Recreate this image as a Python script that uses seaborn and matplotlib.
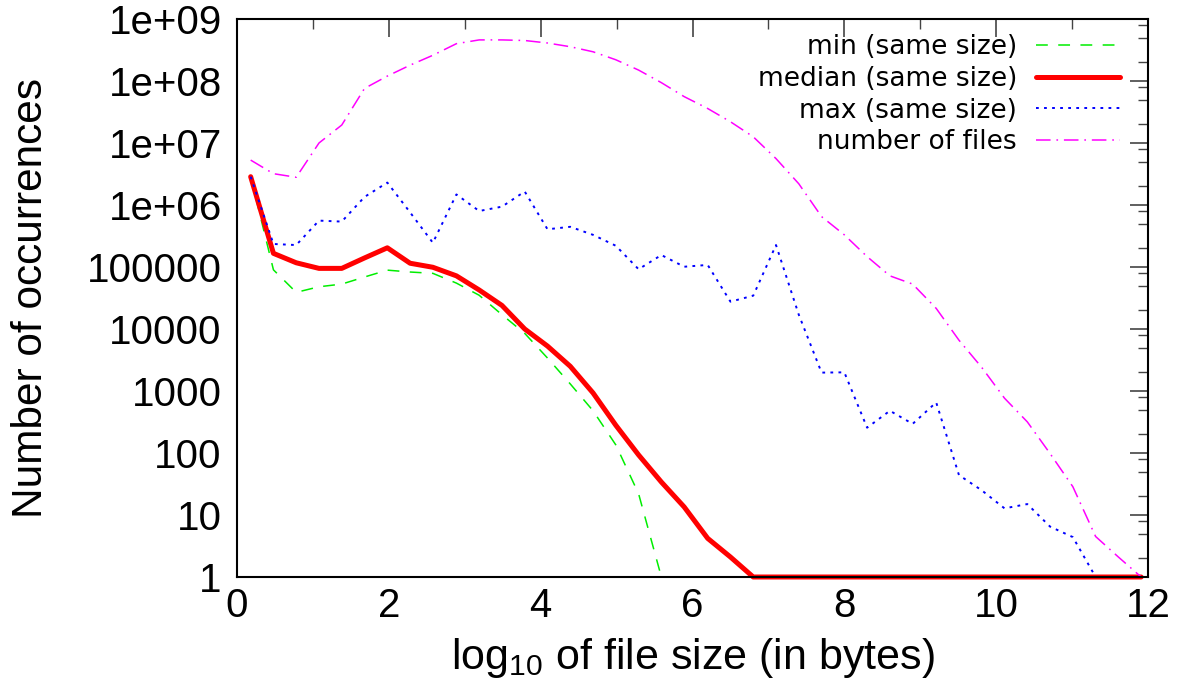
import numpy as np
import pandas as pd
import matplotlib
matplotlib.use("Agg")
import matplotlib.pyplot as plt
from matplotlib.ticker import FixedLocator, FixedFormatter, MultipleLocator
import seaborn as sns

# log10 of bin-centre file size
log_size = [0.18, 0.48, 0.78, 1.08, 1.38, 1.68, 1.98, 2.28, 2.58, 2.89,
            3.19, 3.49, 3.79, 4.09, 4.39, 4.69, 4.99, 5.29, 5.59, 5.89,
            6.20, 6.50, 6.80, 7.10, 7.40, 7.70, 8.00, 8.30, 8.60, 8.90,
            9.21, 9.51, 9.81, 10.11, 10.41, 10.71, 11.01, 11.31, 11.61, 11.91]

min_same = [2.86e6, 9.0e4, 3.9e4, 4.8e4, 5.3e4, 6.9e4, 8.9e4, 8.3e4, 7.9e4, 5.5e4,
            3.5e4, 1.7e4, 8.5e3, 3.4e3, 1.3e3, 480, 135, 22, 1, 1,
            1, 1, 1, 1, 1, 1, 1, 1, 1, 1,
            1, 1, 1, 1, 1, 1, 1, 1, 1, 1]

median_same = [2.86e6, 1.66e5, 1.17e5, 9.5e4, 9.5e4, 1.4e5, 2.04e5, 1.15e5, 9.9e4, 7.2e4,
               4.26e4, 2.4e4, 1.0e4, 5.3e3, 2.5e3, 930, 280, 93, 34, 13.5,
               4.2, 2.1, 1, 1, 1, 1, 1, 1, 1, 1,
               1, 1, 1, 1, 1, 1, 1, 1, 1, 1]

max_same = [2.86e6, 2.35e5, 2.26e5, 5.6e5, 5.4e5, 1.35e6, 2.3e6, 7.6e5, 2.46e5, 1.48e6,
            8.0e5, 9.4e5, 1.65e6, 4.06e5, 4.45e5, 3.3e5, 2.2e5, 9.2e4, 1.56e5, 1.01e5,
            1.08e5, 2.76e4, 3.45e4, 2.26e5, 1.7e4, 1.98e3, 2.0e3, 256, 480, 295,
            655, 44, 25, 12.8, 15, 6.5, 4.4, 1, 1, 1]

num_files = [5.3e6, 3.2e6, 2.8e6, 1.0e7, 1.95e7, 7.6e7, 1.2e8, 1.8e8, 2.6e8, 4.0e8,
             4.6e8, 4.6e8, 4.5e8, 4.1e8, 3.57e8, 2.96e8, 2.2e8, 1.5e8, 9.4e7, 5.6e7,
             3.6e7, 2.2e7, 1.26e7, 5.6e6, 2.2e6, 6.5e5, 3.3e5, 1.47e5, 7.2e4, 5.3e4,
             2.15e4, 6.6e3, 2.4e3, 765, 318, 98, 28.6, 4.5, 2.1, 1]

series_labels = ["min (same size)", "median (same size)", "max (same size)", "number of files"]

y_tick_values = [1, 10, 100, 1000, 10000, 100000, 1e6, 1e7, 1e8, 1e9]
y_tick_labels = ["1", "10", "100", "1000", "10000", "100000",
                 "1e+06", "1e+07", "1e+08", "1e+09"]
x_tick_values = [0, 2, 4, 6, 8, 10, 12]

sns.set_theme(style="white")
plt.rcParams["font.family"] = ["Liberation Sans", "DejaVu Sans"]
plt.rcParams["mathtext.fontset"] = "custom"
plt.rcParams["mathtext.rm"] = "Liberation Sans"
plt.rcParams["mathtext.it"] = "Liberation Sans"
plt.rcParams["lines.scale_dashes"] = False
plt.rcParams["text.color"] = "black"
plt.rcParams["axes.labelcolor"] = "black"

df = pd.DataFrame({"x": log_size, "min": min_same, "median": median_same,
                   "max": max_same, "files": num_files})

W, H = 1185, 680
fig = plt.figure(figsize=(W / 100, H / 100), dpi=100)
ax = fig.add_axes([237 / W, 1 - 577 / H, (1148 - 237) / W, (577 - 19) / H])

styles = [
    ("min", "#00ee00", 1.1, (0, (8.5, 7.5))),
    ("median", "#ff0000", 3.6, "-"),
    ("max", "#0000ff", 1.4, (0, (2.0, 3.8))),
    ("files", "#ff00ff", 1.1, (0, (10.5, 4.2, 1.2, 4.2))),
]
for (col, color, lw, ls), lab in zip(styles, series_labels):
    sns.lineplot(data=df, x="x", y=col, ax=ax, color=color, linewidth=lw,
                 linestyle=ls, label=lab, clip_on=False)

ax.set_yscale("log")
ax.set_xlim(0, 12)
ax.set_ylim(1, 1e9)

ax.yaxis.set_major_locator(FixedLocator(y_tick_values))
ax.yaxis.set_major_formatter(FixedFormatter(y_tick_labels))
minor_y = [m * d for d in y_tick_values[:-1] for m in (2, 5, 8)]
ax.yaxis.set_minor_locator(FixedLocator(minor_y))
ax.yaxis.set_minor_formatter(FixedFormatter([""] * len(minor_y)))
ax.xaxis.set_major_locator(FixedLocator(x_tick_values))
ax.xaxis.set_minor_locator(MultipleLocator(1))

ax.tick_params(which="both", direction="in", top=True, right=True,
               color="#444444", labelsize=29, labelcolor="black")
ax.tick_params(which="major", length=13, width=1.2)
ax.tick_params(which="minor", length=7, width=1.0)
ax.tick_params(axis="y", which="major", pad=11)
ax.tick_params(axis="x", which="major", pad=7)

for sp in ax.spines.values():
    sp.set_color("black")
    sp.set_linewidth(1.5)

ax.set_xlabel(r"log$_{10}$ of file size (in bytes)", fontsize=31, labelpad=8)
ax.set_ylabel("Number of occurrences", fontsize=30.5, labelpad=26)

leg = ax.legend(loc="upper right", bbox_to_anchor=((1120 - 237) / 911, (577 - 34) / 558),
                frameon=False, markerfirst=False, borderpad=0, borderaxespad=0,
                handlelength=3.2, handletextpad=0.7, labelspacing=0.22,
                prop={"family": "DejaVu Sans", "size": 19})
for t in leg.get_texts():
    t.set_color("black")

fig.savefig("out.png", dpi=100, facecolor="white")
